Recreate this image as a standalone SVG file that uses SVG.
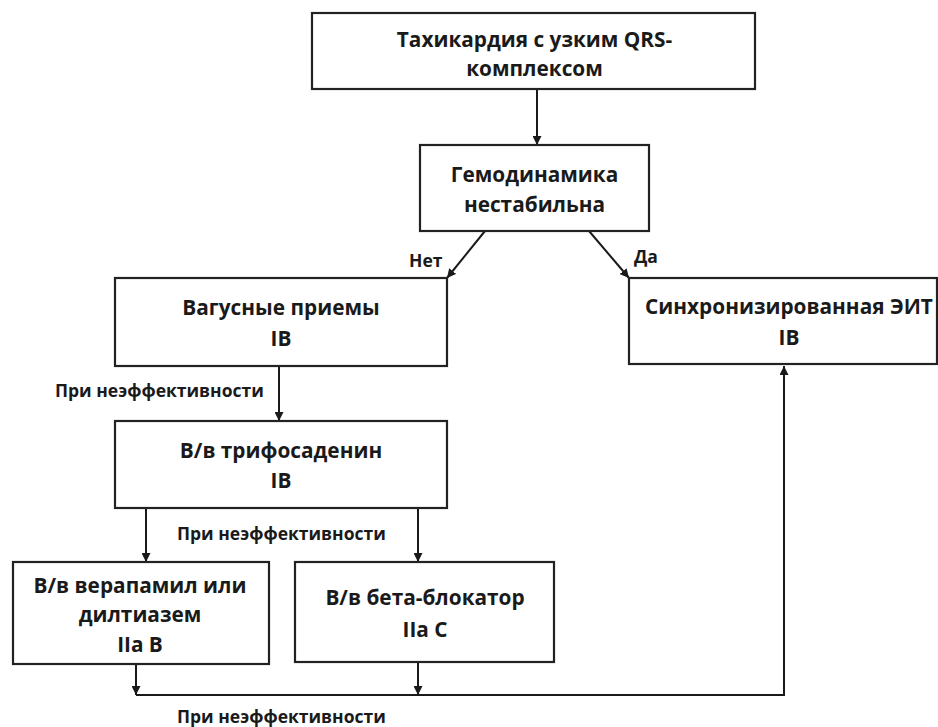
<svg xmlns="http://www.w3.org/2000/svg" width="938" height="727" viewBox="0 0 938 727">
<style>
.box{fill:#fff;stroke:#222;stroke-width:2.2}
.t{font-family:"Open Sans","Liberation Sans",sans-serif;font-weight:bold;font-size:20.8px;fill:#1a1a1a;text-anchor:middle}
.l{font-family:"Open Sans","Liberation Sans",sans-serif;font-weight:bold;font-size:17.5px;fill:#1a1a1a}
.c{fill:none;stroke:#1a1a1a;stroke-width:2}
</style>
<defs>
<marker id="ah" viewBox="0 0 10 10" refX="10" refY="5" markerWidth="9" markerHeight="9" markerUnits="userSpaceOnUse" orient="auto">
<path d="M0,0 L10,5 L0,10 z" fill="#1a1a1a"/>
</marker>
</defs>
<rect width="938" height="727" fill="#fff"/>
<g id="connectors">
<line class="c" x1="537" y1="89" x2="537" y2="145" marker-end="url(#ah)"/>
<line class="c" x1="485" y1="231" x2="447" y2="278" marker-end="url(#ah)"/>
<line class="c" x1="589" y1="231" x2="629" y2="278" marker-end="url(#ah)"/>
<line class="c" x1="279" y1="366" x2="279" y2="421" marker-end="url(#ah)"/>
<line class="c" x1="146" y1="508" x2="146" y2="562" marker-end="url(#ah)"/>
<line class="c" x1="418" y1="508" x2="418" y2="562" marker-end="url(#ah)"/>
<line class="c" x1="136" y1="664" x2="136" y2="695" marker-end="url(#ah)"/>
<line class="c" x1="418" y1="662" x2="418" y2="695" marker-end="url(#ah)"/>
<path class="c" d="M136 695 H784 V366" marker-end="url(#ah)"/>
<text class="l" x="409" y="267">Нет</text>
<text class="l" x="634" y="263">Да</text>
<text class="l" x="55" y="397">При неэффективности</text>
<text class="l" x="177" y="540">При неэффективности</text>
<text class="l" x="177" y="723">При неэффективности</text>
</g>
<g id="n1">
<rect class="box" x="312" y="13" width="443" height="76"/>
<text class="t" x="534.5" y="47">Тахикардия с узким QRS-</text>
<text class="t" x="534.5" y="76">комплексом</text>
</g>
<g id="n2">
<rect class="box" x="420" y="145" width="229" height="86"/>
<text class="t" x="534.5" y="182">Гемодинамика</text>
<text class="t" x="534.5" y="212">нестабильна</text>
</g>
<g id="n3">
<rect class="box" x="115" y="278" width="332" height="88"/>
<text class="t" x="281" y="315">Вагусные приемы</text>
<text class="t" x="281" y="346">IB</text>
</g>
<g id="n4">
<rect class="box" x="629" y="278" width="308" height="86"/>
<text class="t" x="789" y="314">Синхронизированная ЭИТ</text>
<text class="t" x="789" y="345">IB</text>
</g>
<g id="n5">
<rect class="box" x="115" y="421" width="332" height="87"/>
<text class="t" x="281" y="458">В/в трифосаденин</text>
<text class="t" x="281" y="488">IB</text>
</g>
<g id="n6">
<rect class="box" x="13" y="562" width="256" height="102"/>
<text class="t" x="140" y="593">В/в верапамил или</text>
<text class="t" x="140" y="622">дилтиазем</text>
<text class="t" x="140" y="652">IIa B</text>
</g>
<g id="n7">
<rect class="box" x="295" y="562" width="259" height="100"/>
<text class="t" x="425" y="605">В/в бета-блокатор</text>
<text class="t" x="425" y="637">IIa C</text>
</g>
</svg>
